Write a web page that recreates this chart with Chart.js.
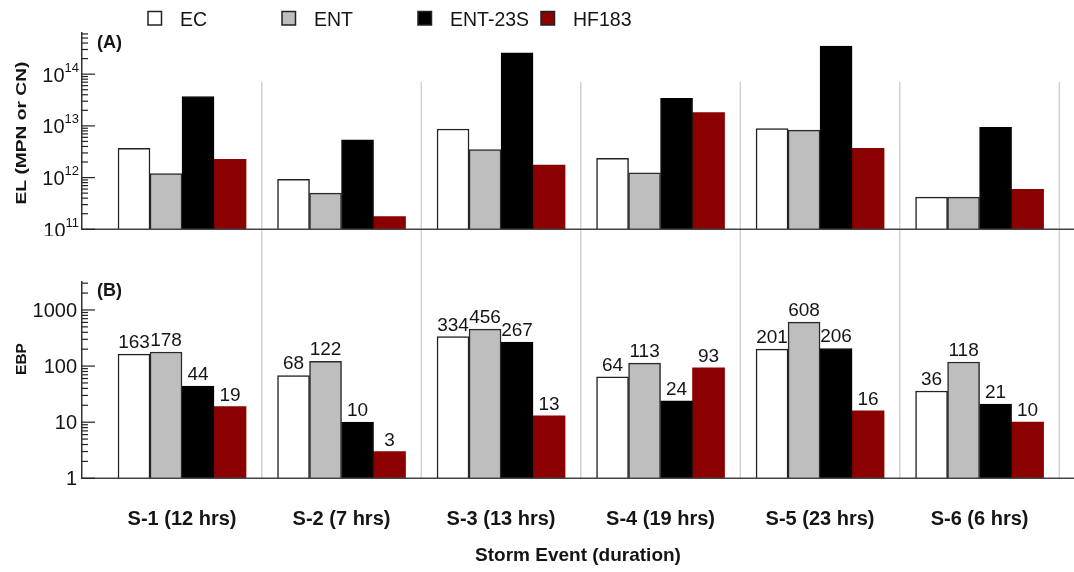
<!DOCTYPE html>
<html>
<head>
<meta charset="utf-8">
<script src="https://cdn.jsdelivr.net/npm/chart.js@4.4.1/dist/chart.umd.min.js"></script>
<style>
  html, body { margin: 0; padding: 0; background: #fff; }
  #wrap { position: relative; width: 1074px; height: 572px; overflow: hidden; }
  canvas { position: absolute; left: 0; }
  #elChart { top: 0; }
  #ebpChart { top: 236px; }
</style>
</head>
<body>
<div id="wrap">
  <canvas id="elChart" width="1074" height="236"></canvas>
  <canvas id="ebpChart" width="1074" height="336"></canvas>
</div>
<script>
// Storm events (x categories)
const categories = ['S-1 (12 hrs)', 'S-2 (7 hrs)', 'S-3 (13 hrs)', 'S-4 (19 hrs)', 'S-5 (23 hrs)', 'S-6 (6 hrs)'];
const seriesNames = ['EC', 'ENT', 'ENT-23S', 'HF183'];

// (A) event loads, MPN or CN
const elEC      = [3.7e12, 9.3e11, 8.7e12, 2.35e12, 8.9e12, 4.2e11];
const elENT     = [1.2e12, 5.0e11, 3.5e12, 1.24e12, 8.3e12, 4.2e11];
const elENT23S  = [3.7e13, 5.4e12, 2.6e14, 3.4e13, 3.5e14, 9.4e12];
const elHF183   = [2.25e12, 1.76e11, 1.74e12, 1.8e13, 3.7e12, 5.9e11];

// (B) EBP
const ebpEC     = [163, 68, 334, 64, 201, 36];
const ebpENT    = [178, 122, 456, 113, 608, 118];
const ebpENT23S = [44, 10, 267, 24, 206, 21];
const ebpHF183  = [19, 3, 13, 93, 16, 10];

// Axis tick labels
const elTickExponents = [11, 12, 13, 14];
const ebpTicks = [1, 10, 100, 1000];

const FONT = '"Liberation Sans", Arial, Helvetica, sans-serif';
const TEXT = '#151515';

const fills   = ['#ffffff', '#bebebe', '#000000', '#8b0000'];
const borders = ['#222222', '#2a2a2a', '#000000', '#8b0000'];
const borderW = [1.5, 1.5, 1, 0];

// legend box positions (left edges)
const legendX = [148, 282, 418, 541];

function makeDatasets(seriesArrays) {
  return seriesArrays.map((arr, k) => ({
    label: seriesNames[k],
    data: arr.map((v, i) => ({ x: i, y: v })),
    backgroundColor: fills[k],
    borderColor: borders[k],
    borderWidth: borderW[k],
    borderSkipped: 'bottom',
    barThickness: 32
  }));
}

function xScaleOpts() {
  return {
    type: 'linear', min: -0.627, max: 5.592, display: false, offset: false,
    afterBuildTicks: s => { s.ticks = categories.map((c, i) => ({ value: i })); }
  };
}

function yScaleOpts(min, max) {
  return {
    type: 'logarithmic', min: min, max: max, display: true,
    ticks: { display: false },
    grid: { display: false, drawTicks: false },
    border: { display: true, color: '#333333', width: 1.5 },
    afterFit: s => { s.width = 82; }
  };
}

// light separators between storm events
function drawSeparators(chart, yTop, yBottom) {
  const xs = chart.scales.x, ctx = chart.ctx;
  ctx.save();
  ctx.strokeStyle = '#d2d2d2';
  ctx.lineWidth = 1.5;
  for (let i = 0; i < categories.length; i++) {
    const px = xs.getPixelForValue(i + 0.5);
    ctx.beginPath();
    ctx.moveTo(px, yTop);
    ctx.lineTo(px, yBottom);
    ctx.stroke();
  }
  ctx.restore();
}

// baseline across the whole plot width
function drawBaseline(chart) {
  const ctx = chart.ctx, a = chart.chartArea;
  ctx.save();
  ctx.strokeStyle = '#444444';
  ctx.lineWidth = 1.5;
  ctx.beginPath();
  ctx.moveTo(a.left, a.bottom);
  ctx.lineTo(chart.width, a.bottom);
  ctx.stroke();
  ctx.restore();
}

// inward major/minor tick marks on the log axis
function drawLogTicks(chart) {
  const ys = chart.scales.y, ctx = chart.ctx, x0 = chart.chartArea.left;
  const lo = Math.floor(Math.log10(ys.min)), hi = Math.ceil(Math.log10(ys.max));
  ctx.save();
  ctx.strokeStyle = '#222222';
  ctx.lineWidth = 1.2;
  for (let e = lo; e <= hi; e++) {
    for (let m = 1; m <= 9; m++) {
      const v = m * Math.pow(10, e);
      if (v < ys.min * 0.999 || v > ys.max * 1.001) continue;
      const py = ys.getPixelForValue(v);
      const len = m === 1 ? 13 : 6;
      ctx.beginPath();
      ctx.moveTo(x0, py);
      ctx.lineTo(x0 + len, py);
      ctx.stroke();
    }
  }
  ctx.restore();
}

function drawVerticalTitle(ctx, text, cx, cy, length, font) {
  ctx.save();
  ctx.font = font;
  const w = ctx.measureText(text).width;
  ctx.translate(cx, cy);
  ctx.rotate(-Math.PI / 2);
  if (length) ctx.scale(length / w, 1);
  ctx.textAlign = 'center';
  ctx.textBaseline = 'middle';
  ctx.fillStyle = TEXT;
  ctx.fillText(text, 0, 0);
  ctx.restore();
}

function drawPanelTag(ctx, text, x, y) {
  ctx.save();
  ctx.font = 'bold 18px ' + FONT;
  ctx.fillStyle = TEXT;
  ctx.textAlign = 'left';
  ctx.textBaseline = 'alphabetic';
  ctx.fillText(text, x, y);
  ctx.restore();
}

const elPlugin = {
  id: 'elDecor',
  beforeDatasetsDraw(chart) {
    drawSeparators(chart, 82, chart.height);
  },
  afterDatasetsDraw(chart) {
    const ctx = chart.ctx, ys = chart.scales.y, right = chart.chartArea.left - 3;
    drawBaseline(chart);
    drawLogTicks(chart);
    // power-of-ten tick labels
    ctx.save();
    ctx.fillStyle = TEXT;
    ctx.textBaseline = 'alphabetic';
    elTickExponents.forEach(exp => {
      const py = ys.getPixelForValue(Math.pow(10, exp));
      ctx.font = '13px ' + FONT;
      ctx.textAlign = 'right';
      const sup = String(exp);
      const sw = ctx.measureText(sup).width;
      ctx.fillText(sup, right, py - 2.5);
      ctx.font = '20px ' + FONT;
      ctx.fillText('10', right - sw, py + 7.5);
    });
    ctx.restore();
    drawVerticalTitle(ctx, 'EL (MPN or CN)', 22, 133, 143, 'bold 15px ' + FONT);
    drawPanelTag(ctx, '(A)', 97, 48);
    // legend
    ctx.save();
    chart.data.datasets.forEach((ds, k) => {
      const bx = legendX[k], by = 11.5, s = 13.5;
      ctx.fillStyle = ds.backgroundColor;
      ctx.fillRect(bx, by, s, s);
      ctx.strokeStyle = '#222222';
      ctx.lineWidth = 1.5;
      ctx.strokeRect(bx, by, s, s);
      ctx.fillStyle = TEXT;
      ctx.font = '19.5px ' + FONT;
      ctx.textAlign = 'left';
      ctx.textBaseline = 'alphabetic';
      ctx.fillText(ds.label, bx + 32, by + 14);
    });
    ctx.restore();
  }
};

const ebpPlugin = {
  id: 'ebpDecor',
  beforeDatasetsDraw(chart) {
    drawSeparators(chart, 0, chart.chartArea.bottom);
  },
  afterDatasetsDraw(chart) {
    const ctx = chart.ctx, ys = chart.scales.y, xs = chart.scales.x, a = chart.chartArea;
    drawBaseline(chart);
    drawLogTicks(chart);
    ctx.save();
    ctx.fillStyle = TEXT;
    ctx.font = '20px ' + FONT;
    ctx.textAlign = 'right';
    ctx.textBaseline = 'alphabetic';
    ebpTicks.forEach(v => {
      ctx.fillText(String(v), a.left - 5, ys.getPixelForValue(v) + 7);
    });
    // value labels above each bar
    ctx.font = '19px ' + FONT;
    ctx.textAlign = 'center';
    chart.data.datasets.forEach((ds, di) => {
      chart.getDatasetMeta(di).data.forEach((bar, i) => {
        ctx.fillText(String(ds.data[i].y), bar.x, bar.y - 6);
      });
    });
    // storm event labels and axis title
    ctx.font = 'bold 20px ' + FONT;
    ctx.textBaseline = 'middle';
    categories.forEach((c, i) => {
      ctx.fillText(c, xs.getPixelForValue(i), 283);
    });
    ctx.font = 'bold 19px ' + FONT;
    ctx.fillText('Storm Event (duration)', (a.left + chart.width) / 2, 320);
    ctx.restore();
    drawVerticalTitle(ctx, 'EBP', 22, 123, 0, 'bold 15.5px ' + FONT);
    drawPanelTag(ctx, '(B)', 97, 60);
  }
};

function baseOptions(padTop, padBottom, yMin, yMax) {
  return {
    responsive: false,
    animation: false,
    devicePixelRatio: 1,
    layout: { padding: { top: padTop, bottom: padBottom, left: 0, right: 0 } },
    plugins: { legend: { display: false }, tooltip: { enabled: false } },
    scales: { x: xScaleOpts(), y: yScaleOpts(yMin, yMax) }
  };
}

new Chart(document.getElementById('elChart'), {
  type: 'bar',
  data: { datasets: makeDatasets([elEC, elENT, elENT23S, elHF183]) },
  options: baseOptions(32.8, 236 - 229.3, 1e11, Math.pow(10, 14.8)),
  plugins: [elPlugin]
});

new Chart(document.getElementById('ebpChart'), {
  type: 'bar',
  data: { datasets: makeDatasets([ebpEC, ebpENT, ebpENT23S, ebpHF183]) },
  options: baseOptions(281.9 - 236, 336 - (478.3 - 236), 1, Math.pow(10, 3.5)),
  plugins: [ebpPlugin]
});
</script>
</body>
</html>
